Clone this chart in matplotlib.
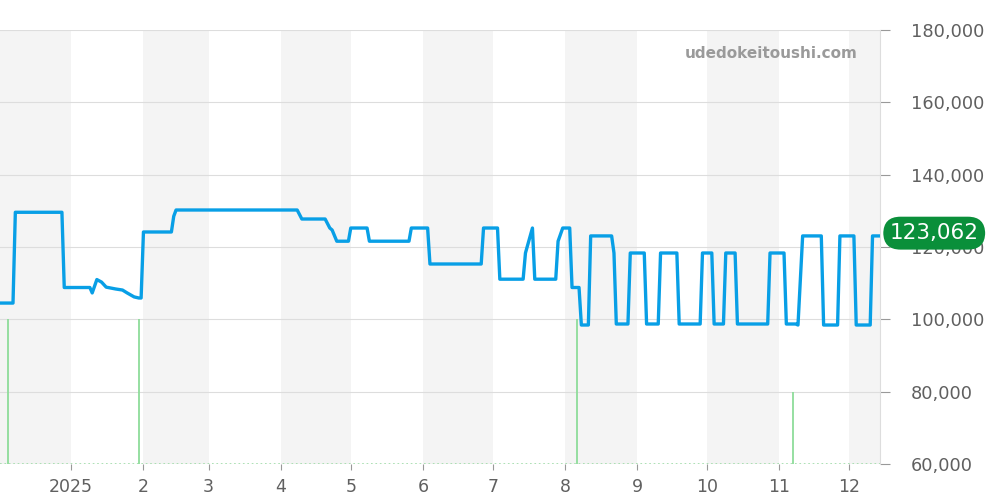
import matplotlib
matplotlib.use("Agg")
import matplotlib.pyplot as plt
from datetime import datetime

# ---- data ----
dates = ["2024-12-01","2024-12-07","2024-12-08","2024-12-28","2024-12-29","2025-01-09","2025-01-10",
         "2025-01-12","2025-01-14","2025-01-16","2025-01-20","2025-01-23","2025-01-25","2025-01-28",
         "2025-01-30","2025-01-31","2025-02-01","2025-02-13","2025-02-14","2025-02-15","2025-04-08",
         "2025-04-10","2025-04-20","2025-04-22","2025-04-23","2025-04-25","2025-04-30","2025-05-01",
         "2025-05-08","2025-05-09","2025-05-26","2025-05-27","2025-06-03","2025-06-04","2025-06-26",
         "2025-06-27","2025-07-03","2025-07-04","2025-07-14","2025-07-15","2025-07-18","2025-07-19",
         "2025-07-28","2025-07-29","2025-07-31","2025-08-03","2025-08-04","2025-08-07","2025-08-08",
         "2025-08-11","2025-08-12","2025-08-21","2025-08-22","2025-08-23","2025-08-28","2025-08-29",
         "2025-09-04","2025-09-05","2025-09-10","2025-09-11","2025-09-18","2025-09-19","2025-09-28",
         "2025-09-29","2025-10-03","2025-10-04","2025-10-08","2025-10-09","2025-10-13","2025-10-14",
         "2025-10-27","2025-10-28","2025-11-03","2025-11-04","2025-11-08","2025-11-09","2025-11-11",
         "2025-11-19","2025-11-20","2025-11-26","2025-11-27","2025-12-03","2025-12-04","2025-12-10",
         "2025-12-11","2025-12-14"]
prices = [104500,104500,129600,129600,108800,108800,107300,
          111000,110300,108900,108400,108100,107300,106200,
          105900,105900,124150,124150,128500,130230,130230,
          127740,127740,125250,124700,121600,121600,125250,
          125250,121600,121600,125250,125250,115300,115300,
          125250,125250,111100,111100,118340,125250,111100,
          111100,121600,125250,125250,108800,108800,98430,
          98430,123062,123062,118340,98710,98710,118340,
          118340,98710,98710,118340,118340,98710,98710,
          118340,118340,98710,98710,118340,118340,98710,
          98710,118340,118340,98710,98710,98430,123062,
          123062,98430,98430,123062,123062,98430,98430,
          123062,123062]

vol_dates = ["2024-12-05","2025-01-30","2025-08-06","2025-11-07"]
vol_levels = [100000,100000,100000,80000]

last_price = 123062
month_ticks = ["2025-01-01","2025-02-01","2025-03-01","2025-04-01","2025-05-01","2025-06-01",
               "2025-07-01","2025-08-01","2025-09-01","2025-10-01","2025-11-01","2025-12-01"]
month_labels = ["2025","2","3","4","5","6","7","8","9","10","11","12"]
shaded = [("2024-11-01","2025-01-01"),("2025-02-01","2025-03-01"),("2025-04-01","2025-05-01"),
          ("2025-06-01","2025-07-01"),("2025-08-01","2025-09-01"),("2025-10-01","2025-11-01"),
          ("2025-12-01","2026-01-01")]

P = lambda s: datetime.strptime(s, "%Y-%m-%d")

fig = plt.figure(figsize=(10, 5), dpi=100)
ax = fig.add_axes([0.0, 0.072, 0.88, 0.868])

for a, b in shaded:
    ax.axvspan(P(a), P(b), color="#f4f4f4", lw=0, zorder=0)

ax.set_ylim(60000, 180000)
ax.set_yticks(range(60000, 180001, 20000))
ax.yaxis.grid(True, color="#dddddd", lw=0.8, zorder=1)
ax.set_axisbelow(True)

ax.axhline(60000, color="#9fdca8", lw=1.2, ls=":", zorder=2)
ax.vlines([P(d) for d in vol_dates], 60000, vol_levels, color="#8edc9a", lw=1.3, zorder=2)

ax.plot([P(d) for d in dates], prices, color="#089fe6", lw=2.4, zorder=3,
        solid_joinstyle="round")

ax.set_xlim(datetime(2024, 12, 1, 10), datetime(2025, 12, 14, 5))
ax.set_xticks([P(d) for d in month_ticks])
ax.set_xticklabels(month_labels)

ax.yaxis.tick_right()
ax.yaxis.set_major_formatter(matplotlib.ticker.FuncFormatter(lambda v, p: f"{int(v):,}"))
ax.tick_params(axis="y", length=7, color="#999999", labelcolor="#606060", labelsize=12.8, pad=15)
ax.tick_params(axis="x", length=4, color="#999999", labelcolor="#606060", labelsize=12.5, pad=6)
for s in ["top", "left", "bottom"]:
    ax.spines[s].set_visible(False)
ax.spines["right"].set_color("#dddddd")

ax.text(0.975, 0.945, "udedokeitoushi.com", transform=ax.transAxes, ha="right", va="center",
        fontsize=11, fontweight="bold", color="#9a9a9a")

ax.annotate(f"{last_price:,}", xy=(1.0, last_price), xycoords=("axes fraction", "data"),
            xytext=(7, 2), textcoords="offset points", ha="left", va="center",
            fontsize=15.5, color="white", zorder=10,
            bbox=dict(boxstyle="round,pad=0.3,rounding_size=0.8", fc="#0a8f3a", ec="none"),
            annotation_clip=False)

fig.savefig("out.png", dpi=100)
